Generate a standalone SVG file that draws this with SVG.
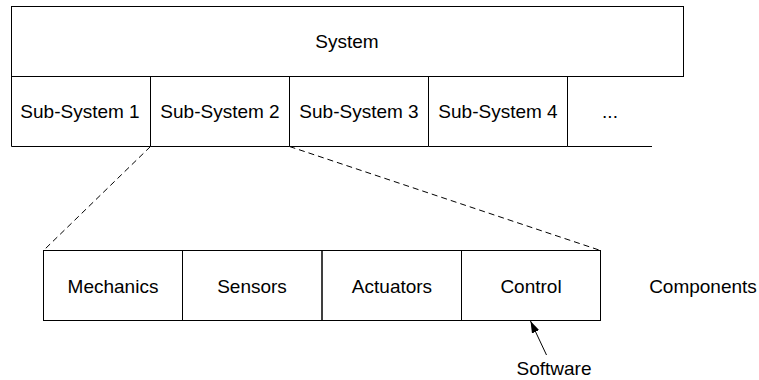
<svg xmlns="http://www.w3.org/2000/svg" width="759" height="380" viewBox="0 0 759 380">
  <style>
    .box { fill: none; stroke: #000; stroke-width: 1; }
    .lbl { font-family: "Liberation Sans", Arial, sans-serif; font-size: 19px; fill: #000; text-anchor: middle; }
    .dash { fill: none; stroke: #000; stroke-width: 1; stroke-dasharray: 6 4; }
    .arrow { fill: none; stroke: #000; stroke-width: 1; }
  </style>
  <defs>
    <marker id="head" viewBox="0 0 12 8" refX="12" refY="4" markerWidth="12" markerHeight="8" markerUnits="userSpaceOnUse" orient="auto">
      <path d="M0,0 L12,4 L0,8 Z" fill="#000"/>
    </marker>
  </defs>
  <rect width="759" height="380" fill="#fff"/>

  <!-- top level -->
  <g id="system">
    <rect class="box" x="11.5" y="6.5" width="672" height="70"/>
    <text class="lbl" x="347" y="48">System</text>
  </g>

  <!-- sub-system row -->
  <g id="subsystem-1">
    <path class="box" d="M11.5,76.5 V146.5 H150.5 V76.5"/>
    <text class="lbl" x="80" y="118">Sub-System 1</text>
  </g>
  <g id="subsystem-2">
    <path class="box" d="M150.5,146.5 H289.5 V76.5"/>
    <text class="lbl" x="220" y="118">Sub-System 2</text>
  </g>
  <g id="subsystem-3">
    <path class="box" d="M289.5,146.5 H428.5 V76.5"/>
    <text class="lbl" x="359" y="118">Sub-System 3</text>
  </g>
  <g id="subsystem-4">
    <path class="box" d="M428.5,146.5 H567.5 V76.5"/>
    <text class="lbl" x="498" y="118">Sub-System 4</text>
  </g>
  <g id="subsystem-more">
    <path class="box" d="M567.5,146.5 H652"/>
    <text class="lbl" x="610" y="118">...</text>
  </g>

  <!-- component row -->
  <g id="mechanics">
    <rect class="box" x="43.5" y="250.5" width="139" height="70"/>
    <text class="lbl" x="113" y="293">Mechanics</text>
  </g>
  <g id="sensors">
    <rect class="box" x="182.5" y="250.5" width="139.5" height="70"/>
    <text class="lbl" x="252" y="293">Sensors</text>
  </g>
  <g id="actuators">
    <rect class="box" x="322" y="250.5" width="139.5" height="70"/>
    <text class="lbl" x="392" y="293">Actuators</text>
  </g>
  <g id="control">
    <rect class="box" x="461.5" y="250.5" width="139" height="70"/>
    <text class="lbl" x="531" y="293">Control</text>
  </g>
  <g id="components">
    <text class="lbl" x="703" y="293">Components</text>
  </g>
  <g id="software">
    <text class="lbl" x="554" y="375">Software</text>
  </g>

  <!-- connectors -->
  <g id="connectors">
    <line class="dash" x1="150.5" y1="146.5" x2="43.5" y2="250.5"/>
    <line class="dash" x1="289.5" y1="146.5" x2="600.5" y2="250.5"/>
    <line class="arrow" x1="546.5" y1="355" x2="530.5" y2="321" marker-end="url(#head)"/>
  </g>
</svg>
